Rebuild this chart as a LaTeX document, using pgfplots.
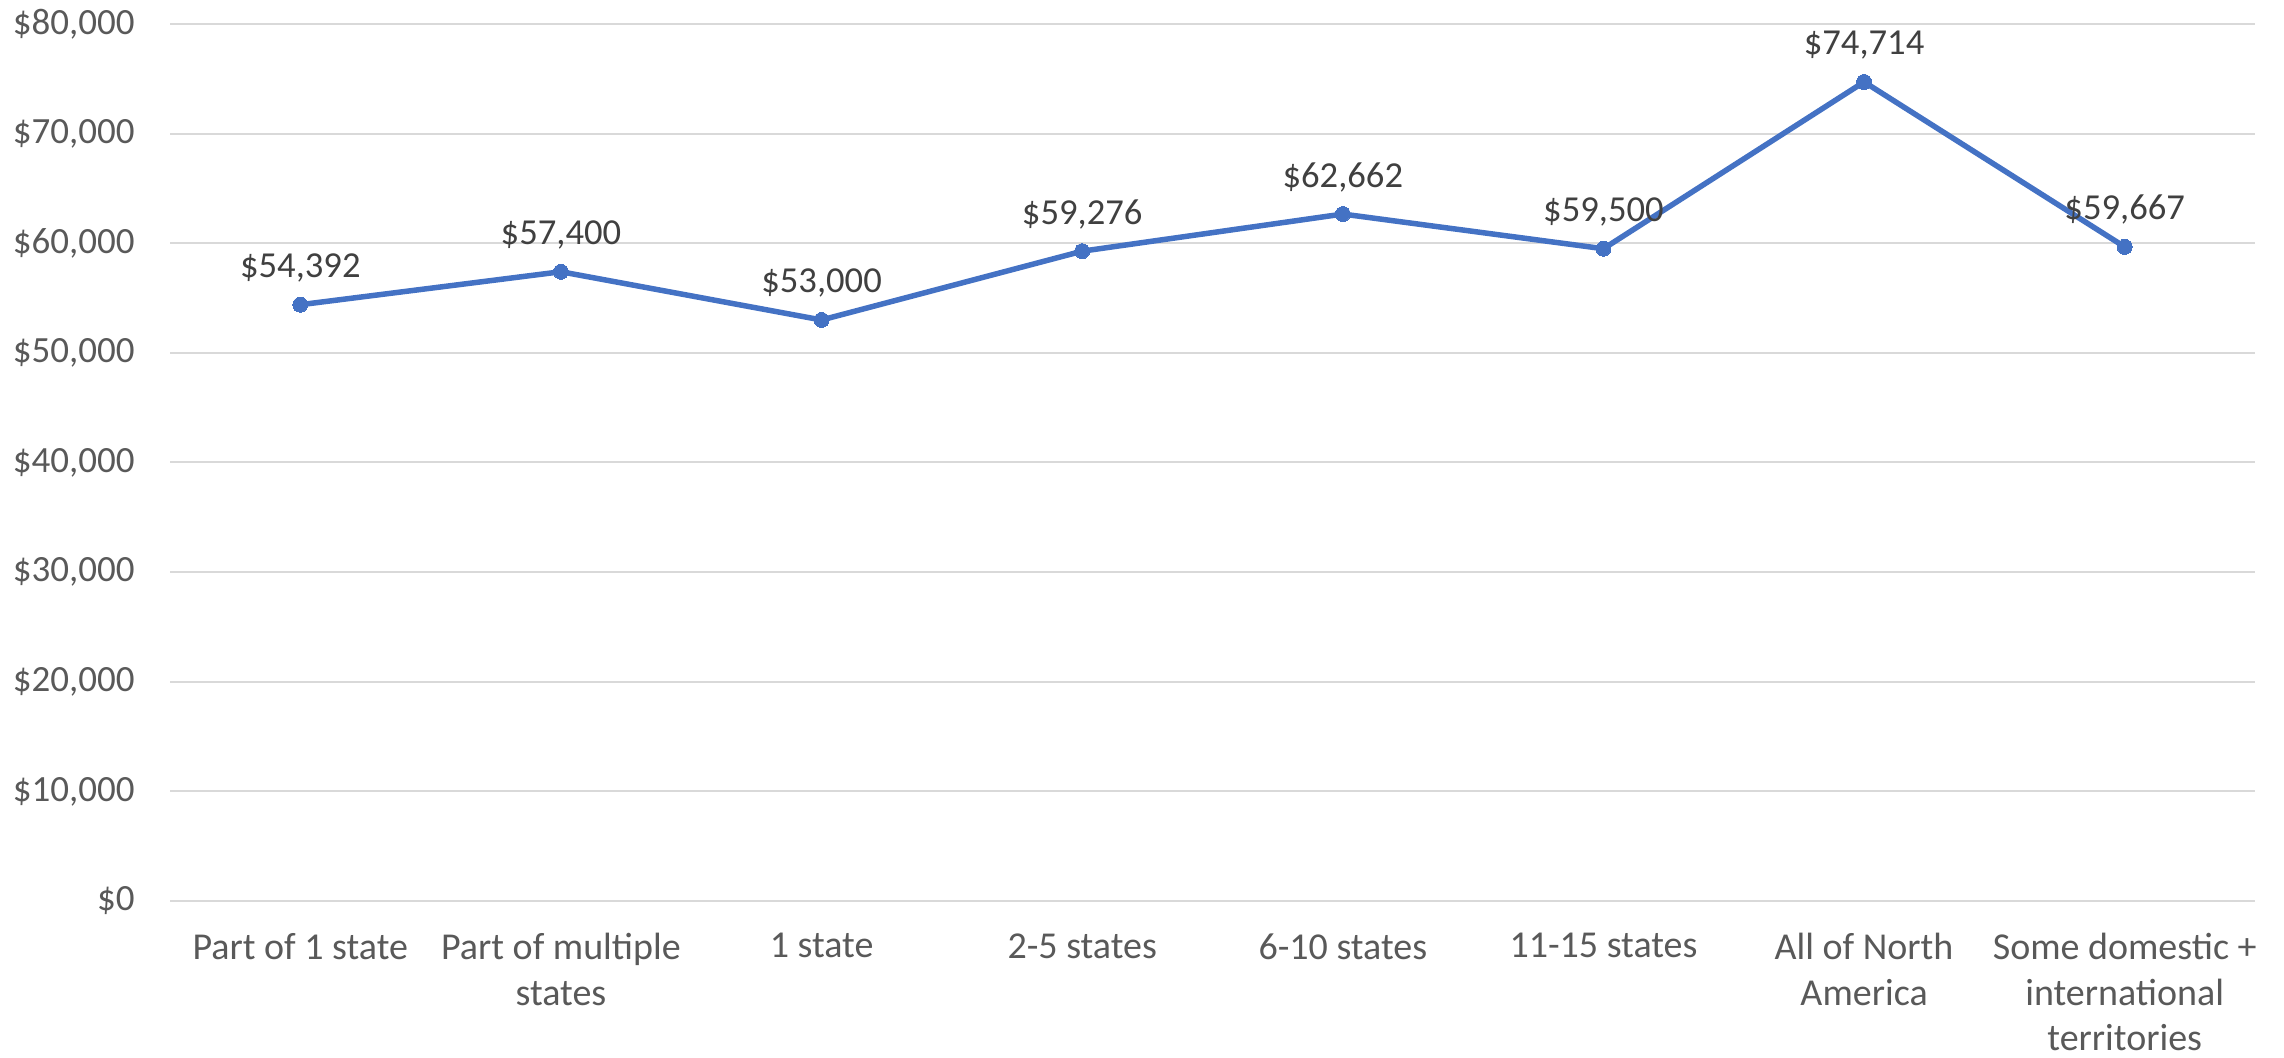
\documentclass[border=0pt]{standalone}
\usepackage{fontspec}
\setmainfont{Carlito}
\usepackage{pgfplots}
\pgfplotsset{compat=1.18}
\definecolor{linec}{HTML}{4472C4}
\definecolor{gridc}{HTML}{D9D9D9}
\definecolor{tickc}{HTML}{595959}
\definecolor{labc}{HTML}{404040}
\begin{document}
\begin{tikzpicture}
\begin{axis}[
  name=ax,
  scale only axis,
  width=1042.5pt, height=438.5pt,
  xmin=-0.5, xmax=7.5,
  ymin=0, ymax=80000,
  scaled y ticks=false,
  xtick={0,1,2,3,4,5,6,7},
  xticklabels={{Part of 1 state},{Part of multiple\\states},{1 state},{2-5 states},{6-10 states},{11-15 states},{All of North\\America},{Some domestic +\\international\\territories}},
  ytick={0,10000,20000,30000,40000,50000,60000,70000,80000},
  yticklabels={{\$0},{\$10,000},{\$20,000},{\$30,000},{\$40,000},{\$50,000},{\$60,000},{\$70,000},{\$80,000}},
  ymajorgrids,
  grid style={gridc, line width=1pt},
  axis line style={draw=none},
  major tick length=0pt,
  xticklabel style={font=\fontsize{19}{22.8}\selectfont, text=tickc, anchor=north, align=center, inner sep=0pt, yshift=-16pt},
  yticklabel style={font=\fontsize{18.5}{22}\selectfont, text=tickc, anchor=east, inner sep=0pt, xshift=-17.5pt},
  /pgf/number format/.cd, fixed, precision=0, 1000 sep={,}, assume math mode=true,
]
\addplot[color=linec, line width=2.75pt, mark=*, mark size=3.75pt,
  mark options={fill=linec, draw=linec, line width=0pt},
  nodes near coords={\$\pgfmathprintnumber{\pgfplotspointmeta}},
  nodes near coords style={anchor=base, inner sep=0pt, yshift=13.5pt, font=\fontsize{18.3}{22}\selectfont, text=labc},
] coordinates {
  (0,54392) (1,57400) (2,53000) (3,59276) (4,62662) (5,59500) (6,74714) (7,59667)
};
\end{axis}
\pgfresetboundingbox
\path[use as bounding box] ([xshift=-85pt,yshift=-78.5pt]ax.south west) rectangle ([xshift=14.5pt,yshift=12pt]ax.north east);
\end{tikzpicture}
\end{document}
